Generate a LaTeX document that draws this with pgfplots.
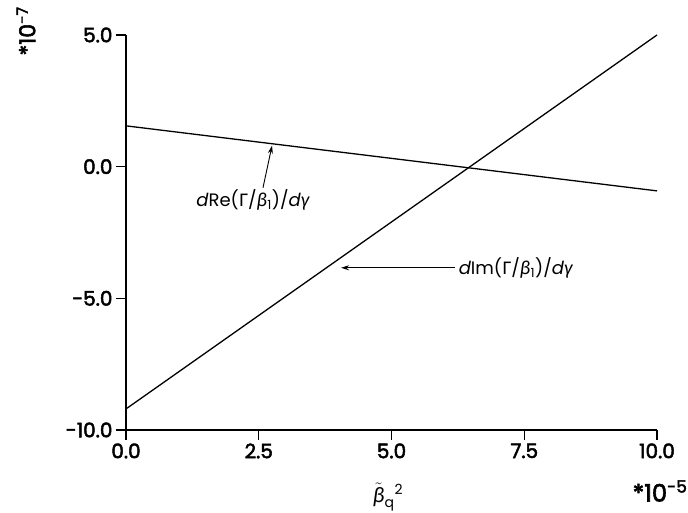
\documentclass[border=0pt]{standalone}
\usepackage{pgfplots}
\pgfplotsset{compat=1.18}
\usetikzlibrary{arrows.meta}
\usepackage{fontspec}
\setmainfont{Poppins}
\newfontfamily\medfont{Poppins}[FakeBold=2.5]
\newfontfamily\greek{Fira Sans}
\newfontfamily\greekit{Fira Sans Italic}

\begin{document}
\begin{tikzpicture}[x=1pt,y=1pt]
  \useasboundingbox (0,0) rectangle (688,513);
  \begin{axis}[
      at={(126pt,83pt)}, anchor=south west,
      scale only axis, width=531pt, height=395pt,
      xmin=0, xmax=10, ymin=-10, ymax=5,
      axis lines=left,
      axis line style={-, line width=1.3pt},
      tick align=outside,
      major tick length=10pt,
      tick style={line width=1.3pt, black},
      xtick={0,2.5,5,7.5,10},
      xticklabels={0.0,2.5,5.0,7.5,10.0},
      ytick={-10,-5,0,5},
      yticklabels={-10.0,-5.0,0.0,5.0},
      ticklabel style={font=\fontsize{20}{24}\medfont},
      clip=false,
    ]
    % dRe(Gamma/beta1)/dgamma
    \addplot[black, line width=1.3pt] coordinates {(0,1.55) (10,-0.92)};
    % dIm(Gamma/beta1)/dgamma
    \addplot[black, line width=1.3pt] coordinates {(0,-9.2) (10,5.0)};
    % annotations
    \node[font=\fontsize{18}{22}\selectfont] at (axis cs:2.39,-1.25)
      {\textit{d}Re({\greek Γ}/{\greekit β}\textsubscript{1})/\textit{d}{\greekit γ}};
    \draw[-{Stealth[length=8pt,width=5pt]}, line width=0.9pt]
      (axis cs:2.58,-0.80) -- (axis cs:2.75,0.80);
    \node[font=\fontsize{18}{22}\selectfont, anchor=west] at (axis cs:6.2,-3.84)
      {\textit{d}Im({\greek Γ}/{\greekit β}\textsubscript{1})/\textit{d}{\greekit γ}};
    \draw[-{Stealth[length=8pt,width=5pt]}, line width=0.9pt]
      (axis cs:6.2,-3.84) -- (axis cs:4.05,-3.84);
  \end{axis}
  \node[rotate=90, font=\fontsize{22}{26}\medfont] at (26,482) {*10\textsuperscript{-7}};
  \node[font=\fontsize{24}{28}\medfont] at (660,22) {*10\textsuperscript{-5}};
  \node[font=\fontsize{20}{24}\selectfont] at (388,16)
    {$\tilde{\mbox{\greekit β}}_{\mbox{\fontsize{14}{16}\selectfont q}}{}^{\mbox{\fontsize{14}{16}\selectfont 2}}$};
\end{tikzpicture}
\end{document}
